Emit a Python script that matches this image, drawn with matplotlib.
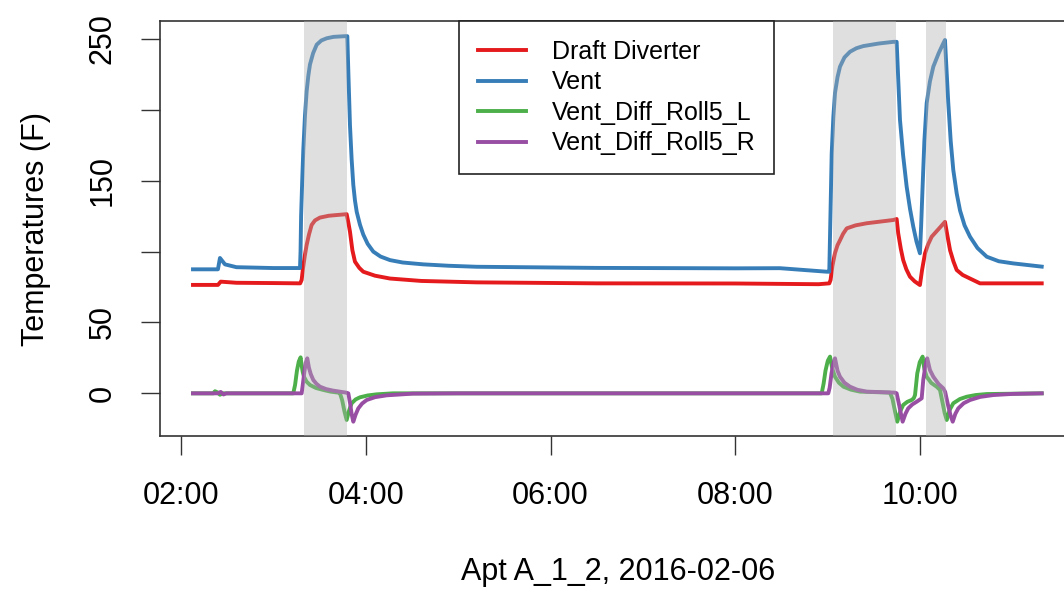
import matplotlib
matplotlib.use('Agg')
import matplotlib.pyplot as plt

plt.rcParams['font.family'] = 'Liberation Sans'

# Times are decimal hours on 2016-02-06, values in degrees F
dd_time = [2.130, 2.400, 2.430, 2.600, 3.000, 3.290, 3.306, 3.320, 3.340, 3.360, 3.385,
           3.414, 3.450, 3.504, 3.600, 3.685, 3.793, 3.810, 3.829, 3.855, 3.883, 3.930,
           3.973, 4.100, 4.262, 4.600, 5.200, 6.500, 8.000, 8.900, 9.016, 9.030, 9.050,
           9.078, 9.105, 9.132, 9.165, 9.205, 9.300, 9.421, 9.709, 9.745, 9.762, 9.790,
           9.816, 9.850, 9.889, 9.940, 9.997, 10.020, 10.052, 10.085, 10.124, 10.200,
           10.268, 10.295, 10.323, 10.360, 10.395, 10.460, 10.539, 10.647, 11.315]
dd_temp = [76.5, 76.5, 78.8, 78.0, 77.8, 77.6, 80.0, 88.0, 97.0, 104.7, 112.0,
           118.8, 122.0, 124.0, 125.3, 125.8, 126.4, 121.0, 114.0, 101.0, 92.9, 88.5,
           85.8, 83.0, 81.0, 79.3, 78.3, 77.6, 77.5, 77.0, 77.6, 80.0, 90.0,
           99.0, 104.5, 108.0, 112.5, 116.4, 118.5, 120.0, 122.3, 123.0, 112.9, 102.0,
           94.0, 87.5, 82.3, 79.0, 76.4, 87.0, 98.8, 105.0, 110.5, 116.0,
           121.0, 111.0, 101.0, 93.0, 87.0, 83.5, 81.0, 77.6, 77.6]

vent_time = [2.130, 2.400, 2.422, 2.476, 2.600, 3.000, 3.288, 3.294, 3.300, 3.312, 3.324,
             3.342, 3.360, 3.378, 3.396, 3.430, 3.469, 3.520, 3.577, 3.650, 3.775, 3.800,
             3.812, 3.829, 3.847, 3.865, 3.883, 3.902, 3.937, 3.973, 4.020, 4.081, 4.160,
             4.262, 4.400, 4.622, 4.900, 5.200, 6.500, 8.000, 8.482, 8.991, 9.016, 9.030,
             9.042, 9.060, 9.078, 9.105, 9.132, 9.180, 9.240, 9.310, 9.384, 9.550, 9.709,
             9.745, 9.760, 9.781, 9.815, 9.853, 9.890, 9.925, 9.960, 9.997, 10.010,
             10.026, 10.045, 10.070, 10.105, 10.142, 10.200, 10.250, 10.268, 10.285,
             10.304, 10.330, 10.358, 10.395, 10.431, 10.480, 10.539, 10.620, 10.720,
             10.850, 11.004, 11.315]
vent_temp = [87.5, 87.5, 95.5, 91.0, 89.0, 88.4, 88.4, 100.0, 125.0, 150.0, 172.0,
             196.0, 213.0, 224.0, 232.0, 240.0, 246.0, 249.0, 250.5, 251.5, 252.0, 252.0,
             225.0, 189.0, 165.0, 147.0, 136.0, 128.0, 119.0, 112.0, 105.5, 100.0, 96.5,
             94.0, 92.3, 91.0, 90.0, 89.3, 88.5, 88.2, 88.3, 85.8, 85.8, 130.0,
             169.0, 195.0, 212.0, 223.0, 230.5, 237.0, 241.0, 243.5, 245.0, 246.8, 248.0,
             248.0, 225.0, 193.0, 168.0, 146.0, 130.0, 117.6, 107.0, 98.8, 118.0,
             146.0, 178.0, 204.7, 220.0, 230.5, 240.0, 247.0, 249.3, 228.0,
             204.7, 178.0, 157.6, 141.0, 129.0, 118.5, 110.5, 102.5, 96.4,
             93.2, 91.7, 89.4]

roll_l_time = [2.130, 2.350, 2.368, 2.400, 2.422, 2.450, 3.215, 3.235, 3.255, 3.275, 3.295,
               3.305, 3.318, 3.331, 3.360, 3.396, 3.460, 3.540, 3.620, 3.702, 3.721, 3.745,
               3.770, 3.793, 3.820, 3.847, 3.890, 3.937, 4.020, 4.118, 4.294, 8.934, 8.955,
               8.975, 9.000, 9.024, 9.050, 9.078, 9.120, 9.169, 9.250, 9.349, 9.673, 9.700,
               9.728, 9.752, 9.785, 9.816, 9.860, 9.907, 9.930, 9.944, 9.968, 9.995, 10.026,
               10.045, 10.070, 10.120, 10.178, 10.214, 10.240, 10.265, 10.287, 10.320,
               10.358, 10.430, 10.503, 10.600, 10.720, 11.315]
roll_l_temp = [0.0, 0.0, 1.5, 0.5, -1.0, 0.0, 0.0, 6.0, 16.0, 22.5, 25.4,
               20.0, 15.0, 11.7, 8.2, 5.9, 3.8, 2.4, 1.2, 0.5, 0.0, -5.0,
               -13.0, -18.8, -12.0, -7.0, -4.3, -2.8, -1.5, -0.7, 0.0, 0.0, 7.0,
               16.0, 23.0, 25.9, 17.0, 11.7, 7.5, 4.7, 2.6, 1.2, 0.5, -4.0,
               -13.0, -20.0, -12.5, -8.2, -6.0, -4.7, -3.5, -1.2, 14.0, 22.0, 25.9,
               17.0, 11.7, 7.3, 4.7, 2.4, -6.0, -14.0, -18.8, -11.5,
               -7.0, -4.0, -2.4, -1.2, -0.5, 0.0]

roll_r_time = [2.130, 2.400, 2.430, 2.460, 2.490, 3.306, 3.320, 3.335, 3.350, 3.367, 3.385,
               3.405, 3.432, 3.465, 3.504, 3.570, 3.648, 3.786, 3.811, 3.830, 3.848, 3.865,
               3.890, 3.919, 3.960, 4.010, 4.100, 4.226, 4.511, 5.000, 9.005, 9.020, 9.040,
               9.060, 9.078, 9.105, 9.132, 9.180, 9.240, 9.320, 9.421, 9.727, 9.745, 9.765,
               9.790, 9.810, 9.840, 9.870, 9.915, 9.962, 10.016, 10.033, 10.055, 10.076,
               10.105, 10.142, 10.200, 10.250, 10.270, 10.300, 10.330, 10.352, 10.380,
               10.412, 10.470, 10.539, 10.650, 10.791, 11.000, 11.315]
roll_r_temp = [0.0, 0.0, 1.0, -0.8, 0.0, 0.0, 7.0, 15.0, 21.5, 24.7, 18.0,
               13.5, 9.4, 6.8, 4.7, 3.0, 1.9, 0.5, 0.0, -7.0, -15.0, -20.0,
               -15.0, -10.6, -7.2, -4.7, -2.7, -1.4, -0.2, 0.0, 0.0, 4.0, 14.0,
               21.0, 24.7, 16.0, 11.7, 7.5, 4.7, 2.5, 1.2, 0.5, 0.0, -6.0,
               -14.0, -20.0, -14.5, -10.6, -7.8, -5.9, -3.5, 9.4, 19.0, 24.7,
               16.5, 11.7, 6.5, 3.5, 1.0, -8.0, -16.0, -20.0, -14.5,
               -10.6, -7.0, -4.7, -2.5, -1.2, -0.4, 0.0]

# burner-on periods
shade_start = [3.334, 9.059, 10.059]
shade_end = [3.800, 9.735, 10.279]

hour_ticks = [2, 4, 6, 8, 10]
hour_labels = ['02:00', '04:00', '06:00', '08:00', '10:00']
temp_ticks = [0, 50, 100, 150, 200, 250]
temp_labels = ['0', '50', '', '150', '', '250']

fig = plt.figure(figsize=(10.64, 5.89), dpi=100)
ax = fig.add_axes([160 / 1064, 153 / 589, 916 / 1064, 415 / 589])

lw = 2.8
ax.plot(dd_time, dd_temp, color='#E41A1C', lw=lw, label='Draft Diverter', zorder=2)
ax.plot(vent_time, vent_temp, color='#377EB8', lw=lw, label='Vent', zorder=2)
ax.plot(roll_l_time, roll_l_temp, color='#4DAF4A', lw=lw, label='Vent_Diff_Roll5_L', zorder=2)
ax.plot(roll_r_time, roll_r_temp, color='#984EA3', lw=lw, label='Vent_Diff_Roll5_R', zorder=2)

for s, e in zip(shade_start, shade_end):
    ax.axvspan(s, e, color='#b0b0b0', alpha=0.4, lw=0, zorder=3)

ax.set_xlim(1.773, 11.686)
ax.set_ylim(-30.1, 262.7)

ax.set_xticks(hour_ticks)
ax.set_xticklabels(hour_labels)
ax.set_yticks(temp_ticks)
ax.set_yticklabels(temp_labels, rotation=90, va='center')
ax.tick_params(axis='both', length=13.7, width=1.0, color='#333333', labelsize=22, pad=19)
ax.tick_params(axis='y', pad=17)

for sp in ax.spines.values():
    sp.set_linewidth(1.2)
    sp.set_color('#333333')

ax.set_xlabel('Apt A_1_2, 2016-02-06', fontsize=22, labelpad=33)
ax.set_ylabel('Temperatures (F)', fontsize=22, labelpad=26)

leg = ax.legend(loc='upper left', bbox_to_anchor=(0.3268, 1.0), fontsize=18,
                frameon=True, fancybox=False, edgecolor='#222222', framealpha=1,
                borderaxespad=0, borderpad=0.75, labelspacing=0.26,
                handlelength=1.9, handletextpad=1.05)
leg.get_frame().set_linewidth(1.2)
leg.set_zorder(5)

fig.savefig('out.png', dpi=100)
